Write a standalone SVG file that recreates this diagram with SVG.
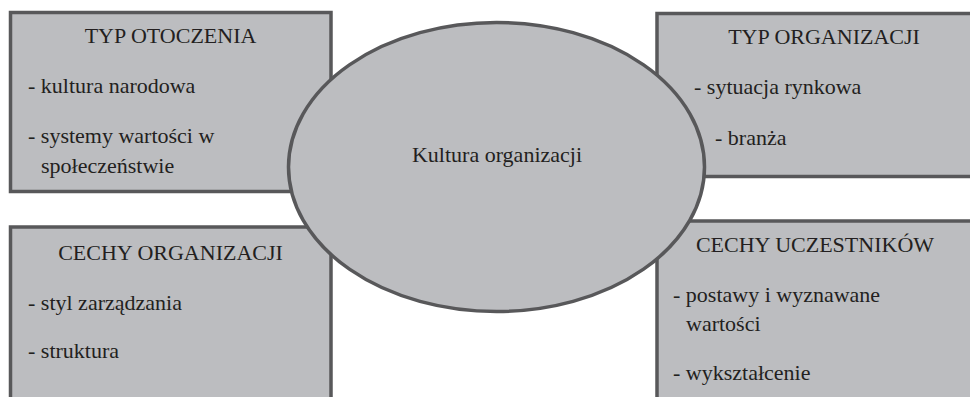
<svg xmlns="http://www.w3.org/2000/svg" width="970" height="397" viewBox="0 0 970 397">
<style>
.box{fill:#bcbdc0;stroke:#58585a;stroke-width:3.5}
.t{text-anchor:middle}
</style>
<rect width="970" height="397" fill="#ffffff"/>
<g font-family="'Liberation Serif', 'Times New Roman', serif" font-size="22" fill="#231f20">
<g id="typ-otoczenia">
<rect class="box" x="10.5" y="12.5" width="320.5" height="179"/>
<text class="t" x="170.5" y="43">TYP OTOCZENIA</text>
<text x="28" y="93">- kultura narodowa</text>
<text x="28" y="143">- systemy wartości w</text>
<text x="41" y="173">społeczeństwie</text>
</g>
<g id="typ-organizacji">
<rect class="box" x="657" y="13.5" width="340" height="163"/>
<text class="t" x="824" y="43.5">TYP ORGANIZACJI</text>
<text x="694" y="94">- sytuacja rynkowa</text>
<text x="715" y="145">- branża</text>
</g>
<g id="cechy-organizacji">
<rect class="box" x="10.5" y="227" width="320.5" height="190"/>
<text class="t" x="170.5" y="260">CECHY ORGANIZACJI</text>
<text x="28" y="310">- styl zarządzania</text>
<text x="28" y="358">- struktura</text>
</g>
<g id="cechy-uczestnikow">
<rect class="box" x="657" y="221" width="340" height="196"/>
<text class="t" x="815" y="252">CECHY UCZESTNIKÓW</text>
<text x="673" y="302">- postawy i wyznawane</text>
<text x="686" y="331">wartości</text>
<text x="673" y="380">- wykształcenie</text>
</g>
<g id="connectors"></g>
<g id="kultura-organizacji">
<ellipse class="box" cx="496.5" cy="167" rx="208" ry="144.5"/>
<text class="t" x="497" y="162">Kultura organizacji</text>
</g>
</g>
</svg>
